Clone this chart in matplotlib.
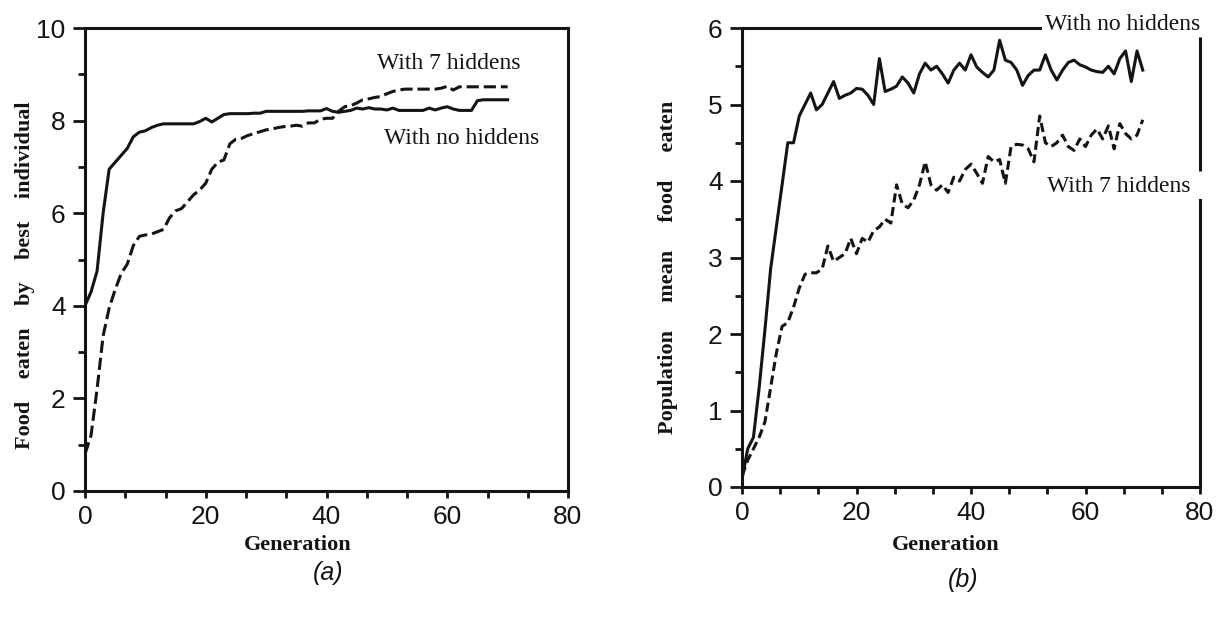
import matplotlib
matplotlib.use("Agg")
import matplotlib.pyplot as plt
from matplotlib.ticker import MultipleLocator

# ---------------- data ----------------
generations = list(range(0, 71))

# (a) food eaten by best individual
best_no_hiddens = [
    4.0, 4.3, 4.75, 6.0, 6.95, 7.1, 7.25, 7.4, 7.65, 7.75,
    7.78, 7.85, 7.9, 7.93, 7.93, 7.93, 7.93, 7.93, 7.93, 7.98,
    8.05, 7.97, 8.05, 8.13, 8.15, 8.15, 8.15, 8.15, 8.16, 8.16,
    8.2, 8.2, 8.2, 8.2, 8.2, 8.2, 8.2, 8.21, 8.21, 8.21,
    8.26, 8.2, 8.18, 8.2, 8.22, 8.27, 8.25, 8.28, 8.25, 8.25,
    8.23, 8.27, 8.22, 8.22, 8.22, 8.22, 8.22, 8.27, 8.23, 8.27,
    8.3, 8.25, 8.22, 8.22, 8.22, 8.43, 8.45, 8.45, 8.45, 8.45,
    8.45,
]
best_7_hiddens = [
    0.8, 1.2, 2.2, 3.35, 3.95, 4.35, 4.7, 4.9, 5.3, 5.5,
    5.53, 5.55, 5.6, 5.65, 5.9, 6.05, 6.1, 6.25, 6.4, 6.5,
    6.65, 6.95, 7.1, 7.15, 7.5, 7.6, 7.62, 7.68, 7.72, 7.76,
    7.8, 7.82, 7.85, 7.87, 7.88, 7.9, 7.88, 7.95, 7.95, 8.03,
    8.05, 8.05, 8.2, 8.3, 8.32, 8.38, 8.45, 8.47, 8.5, 8.52,
    8.58, 8.63, 8.66, 8.68, 8.68, 8.68, 8.68, 8.68, 8.68, 8.7,
    8.74, 8.66, 8.73, 8.73, 8.73, 8.73, 8.73, 8.73, 8.73, 8.73,
    8.73,
]

# (b) population mean food eaten
mean_no_hiddens = [
    0.1, 0.5, 0.65, 1.3, 2.05, 2.85, 3.4, 3.95, 4.5, 4.5,
    4.85, 5.0, 5.15, 4.93, 5.0, 5.15, 5.3, 5.08, 5.12, 5.15,
    5.21, 5.2, 5.12, 5.0, 5.6, 5.17, 5.2, 5.24, 5.36, 5.28,
    5.15, 5.4, 5.54, 5.45, 5.5, 5.4, 5.28, 5.45, 5.54, 5.45,
    5.65, 5.49, 5.42, 5.36, 5.45, 5.84, 5.58, 5.55, 5.45, 5.25,
    5.38, 5.45, 5.45, 5.65, 5.45, 5.32, 5.45, 5.55, 5.58, 5.52,
    5.49, 5.45, 5.43, 5.42, 5.5, 5.4, 5.6, 5.7, 5.3, 5.7,
    5.45,
]
mean_7_hiddens = [
    0.15, 0.35, 0.5, 0.65, 0.85, 1.3, 1.75, 2.1, 2.15, 2.35,
    2.6, 2.78, 2.8, 2.8, 2.85, 3.15, 2.95, 3.0, 3.05, 3.25,
    3.05, 3.25, 3.2, 3.35, 3.4, 3.5, 3.45, 3.95, 3.7, 3.65,
    3.75, 3.95, 4.25, 3.95, 3.88, 3.95, 3.85, 4.05, 4.0, 4.15,
    4.22, 4.1, 3.97, 4.32, 4.25, 4.28, 3.97, 4.45, 4.48, 4.47,
    4.42, 4.25, 4.85, 4.5, 4.45, 4.5, 4.6, 4.45, 4.4, 4.55,
    4.45, 4.6, 4.68, 4.55, 4.72, 4.42, 4.75, 4.62, 4.55, 4.6,
    4.8,
]

a_xticks = [0, 20, 40, 60, 80]
a_yticks = [0, 2, 4, 6, 8, 10]
b_xticks = [0, 20, 40, 60, 80]
b_yticks = [0, 1, 2, 3, 4, 5, 6]

label_no = "With no hiddens"
label_7 = "With 7 hiddens"
xlabel_text = "Generation"
a_ylabel = "Food    eaten    by    best    individual"
b_ylabel = "Population     mean     food     eaten"

# ---------------- style ----------------
INK = "#141414"
SERIF = ["Liberation Serif", "DejaVu Serif"]
SANS = ["Liberation Sans", "DejaVu Sans"]
LW = 2.2

plt.rcParams["font.family"] = SANS

fig = plt.figure(figsize=(12.18, 6.3), dpi=100)
fig.patch.set_facecolor("white")

W, H = 1218.0, 630.0
ax1 = fig.add_axes([85 / W, 1 - 491 / H, 483 / W, 463 / H])
ax2 = fig.add_axes([742 / W, 1 - 487 / H, 458 / W, 459 / H])

for ax in (ax1, ax2):
    for s in ax.spines.values():
        s.set_linewidth(LW)
        s.set_color(INK)
    ax.tick_params(axis="x", which="major", direction="out", length=5,
                   width=2, labelsize=19, pad=5, colors=INK)
    ax.tick_params(axis="x", which="minor", direction="out", length=5,
                   width=2, colors=INK)
    ax.tick_params(axis="y", which="major", direction="out", length=9,
                   width=2, labelsize=19, pad=5, colors=INK)
    ax.tick_params(axis="y", which="minor", direction="out", length=5,
                   width=2, colors=INK)
    ax.xaxis.set_minor_locator(MultipleLocator(20 / 3))

# ---- panel (a) ----
ax1.plot(generations, best_no_hiddens, color=INK, lw=LW, solid_joinstyle="round")
ax1.plot(generations, best_7_hiddens, color=INK, lw=LW, linestyle=(0, (4, 1.6)))
ax1.set_xlim(0, 80)
ax1.set_ylim(0, 10)
ax1.set_xticks(a_xticks)
ax1.set_yticks(a_yticks)
ax1.yaxis.set_minor_locator(MultipleLocator(1))
ax1.text(48.3, 9.11, label_7, family=SERIF, fontsize=17, color=INK,
         ha="left", va="baseline")
ax1.text(49.6, 7.49, label_no, family=SERIF, fontsize=17, color=INK,
         ha="left", va="baseline")
ax1.set_xlabel(xlabel_text, family=SERIF, fontweight="bold", fontsize=16, color=INK)
ax1.xaxis.set_label_coords(0.441, -0.095)
ax1.set_ylabel(a_ylabel, family=SERIF, fontweight="bold", fontsize=16, color=INK)
ax1.yaxis.set_label_coords(-0.1035, 0.467)

# ---- panel (b) ----
ax2.plot(generations, mean_no_hiddens, color=INK, lw=LW)
ax2.plot(generations, mean_7_hiddens, color=INK, lw=LW, linestyle=(0, (3, 1.5)))
ax2.set_xlim(0, 80)
ax2.set_ylim(0, 6)
ax2.set_xticks(b_xticks)
ax2.set_yticks(b_yticks)
ax2.yaxis.set_minor_locator(MultipleLocator(0.5))
# broken top / right frame around the labels
ax2.spines["top"].set_bounds(0, 52.1)
ax2.spines["right"].set_bounds(0, 3.75)
ax2.vlines(80, 4.13, 5.88, color=INK, lw=LW, clip_on=False)
ax2.text(53.0, 5.97, label_no, family=SERIF, fontsize=17, color=INK,
         ha="left", va="baseline", clip_on=False)
ax2.text(53.3, 3.86, label_7, family=SERIF, fontsize=17, color=INK,
         ha="left", va="baseline")
ax2.set_xlabel(xlabel_text, family=SERIF, fontweight="bold", fontsize=16, color=INK)
ax2.xaxis.set_label_coords(0.445, -0.105)
ax2.set_ylabel(b_ylabel, family=SERIF, fontweight="bold", fontsize=16, color=INK)
ax2.yaxis.set_label_coords(-0.14, 0.479)

# panel captions
fig.text(328 / W, 1 - 573 / H, "(a)", family=SANS, style="italic",
         fontsize=18, color=INK, ha="center", va="center")
fig.text(963 / W, 1 - 580 / H, "(b)", family=SANS, style="italic",
         fontsize=18, color=INK, ha="center", va="center")

fig.savefig("out.png", dpi=100, facecolor="white")
